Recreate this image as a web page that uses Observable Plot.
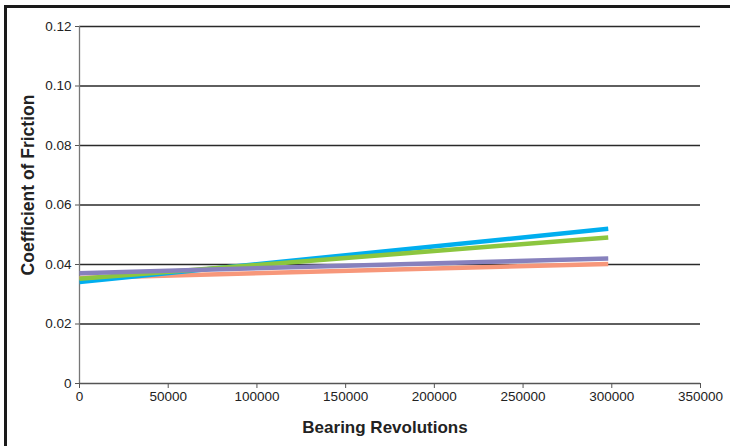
<!DOCTYPE html>
<html>
<head>
<meta charset="utf-8">
<script src="https://cdn.jsdelivr.net/npm/d3@7"></script>
<script src="https://cdn.jsdelivr.net/npm/@observablehq/plot@0.6"></script>
<style>
  html, body { margin: 0; padding: 0; background: #fff; }
  #wrap { position: relative; width: 730px; height: 446px; overflow: hidden; font-family: "Liberation Sans", Arial, Helvetica, sans-serif; }
  #frame { position: absolute; left: 4px; top: 5px; width: 740px; height: 460px; border-left: 3px solid #1a1a1a; border-top: 3px solid #1a1a1a; }
  #chart { position: absolute; left: 0; top: 0; }
</style>
</head>
<body>
<div id="wrap"><div id="frame"></div><div id="chart"></div></div>
<script>
const revolutions = [0, 298000];
const seriesNames = ["Series A", "Series B", "Series C", "Series D"];
const seriesColors = ["#f7977a", "#00aeef", "#8cc63f", "#8781bd"];
const seriesAValues = [0.0355, 0.0402];
const seriesBValues = [0.0341, 0.0520];
const seriesCValues = [0.0352, 0.0491];
const seriesDValues = [0.0371, 0.0420];
const xTicks = [0, 50000, 100000, 150000, 200000, 250000, 300000, 350000];
const yTicks = [0, 0.02, 0.04, 0.06, 0.08, 0.10, 0.12];
const yTickLabels = ["0", "0.02", "0.04", "0.06", "0.08", "0.10", "0.12"];

const valueLists = [seriesAValues, seriesBValues, seriesCValues, seriesDValues];
const data = [];
seriesNames.forEach((s, i) => {
  revolutions.forEach((r, j) => data.push({series: s, x: r, y: valueLists[i][j]}));
});

const chart = Plot.plot({
  width: 730,
  height: 446,
  marginLeft: 79,
  marginRight: 30,
  marginTop: 26,
  marginBottom: 63,
  style: {fontFamily: '"Liberation Sans", Arial, Helvetica, sans-serif', fontSize: "13.5px", color: "#222", background: "transparent"},
  x: {domain: [0, 350000], ticks: xTicks, tickFormat: d => String(d)},
  y: {domain: [0, 0.12], ticks: yTicks},
  color: {domain: seriesNames, range: seriesColors},
  marks: [
    Plot.ruleY(yTicks.filter(d => d > 0), {stroke: "#2a2a2a", strokeWidth: 1.4}),
    Plot.ruleX([0], {stroke: "#777", strokeWidth: 1.3}),
    Plot.ruleY([0], {stroke: "#555", strokeWidth: 1.3}),
    Plot.axisX({ticks: xTicks, tickSize: 5, tickPadding: 3, tickFormat: d => String(d), stroke: "#555", label: null, fontSize: 13.5}),
    Plot.axisY({ticks: yTicks, tickSize: 4, tickPadding: 4, tickFormat: (d, i) => yTickLabels[i], stroke: "#555", label: null, fontSize: 13.5}),
    Plot.line(data, {x: "x", y: "y", z: "series", stroke: "series", strokeWidth: 4.5, strokeLinecap: "butt"}),
    Plot.text(["Bearing Revolutions"], {frameAnchor: "bottom", dx: -5, dy: 49, fontWeight: "bold", fontSize: 17, fill: "#222", text: d => d}),
    Plot.text(["Coefficient of Friction"], {frameAnchor: "left", dx: -51, dy: -20, rotate: -90, textAnchor: "middle", fontWeight: "bold", fontSize: 17.5, fill: "#222", text: d => d})
  ]
});
document.getElementById("chart").appendChild(chart);
</script>
</body>
</html>
